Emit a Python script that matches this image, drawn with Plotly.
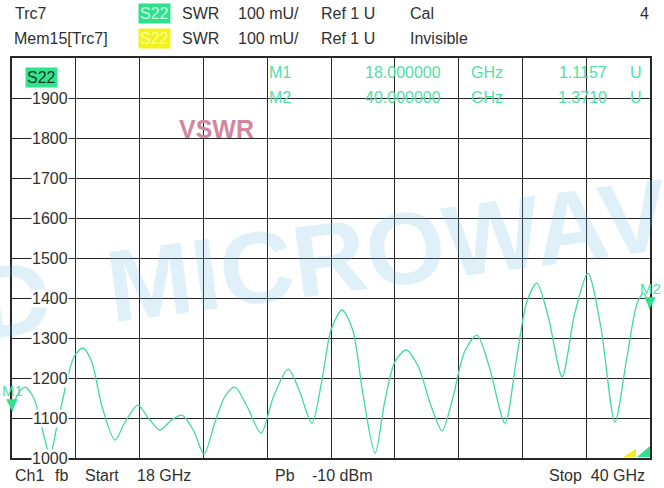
import plotly.graph_objects as go

# ---- data ----
freq_ghz = [18.00, 18.20, 18.45, 18.75, 19.05, 19.31, 19.55, 19.90, 20.15, 20.45,
            20.75, 21.10, 21.55, 21.90, 22.34, 22.70, 23.10, 23.50, 23.86, 24.25,
            24.62, 25.00, 25.35, 25.69, 26.10, 26.59, 27.00, 27.52, 27.90, 28.34,
            28.70, 29.00, 29.38, 29.75, 30.10, 30.52, 30.85, 31.20, 31.59, 32.00,
            32.45, 32.83, 33.20, 33.60, 34.03, 34.45, 35.00, 35.40, 35.75, 36.10,
            36.50, 36.97, 37.40, 37.86, 38.30, 38.79, 39.20, 39.55, 39.78, 40.00]
swr_mu = [1116, 1160, 1177, 1150, 1070, 1007, 1080, 1195, 1255, 1275,
          1240, 1130, 1045, 1090, 1132, 1100, 1070, 1095, 1107, 1070,
          1010, 1090, 1155, 1177, 1130, 1062, 1150, 1222, 1170, 1087,
          1200, 1320, 1370, 1320, 1160, 1012, 1140, 1240, 1270, 1230,
          1130, 1068, 1150, 1265, 1307, 1230, 1087, 1250, 1390, 1437,
          1350, 1203, 1360, 1462, 1330, 1090, 1250, 1385, 1412, 1371]

y_ticks = [1000, 1100, 1200, 1300, 1400, 1500, 1600, 1700, 1800, 1900]
marker_names = ["M1", "M2"]
marker_freq = [18.0, 40.0]
marker_val = [1115.7, 1371.0]
marker_freq_txt = ["18.000000", "40.000000"]
marker_val_txt = ["1.1157", "1.3710"]

header_row1 = ["Trc7", "S22", "SWR", "100 mU/", "Ref 1 U", "Cal", "4"]
header_row2 = ["Mem15[Trc7]", "S22", "SWR", "100 mU/", "Ref 1 U", "Invisible"]
footer = ["Ch1", "fb", "Start", "18 GHz", "Pb", "-10 dBm", "Stop  40 GHz"]

# ---- layout helpers ----
W, H = 664, 488
L, R, T, B = 12, 650, 58, 458
TRACE = "#3fdc9c"
DARK = "#303030"
FONT = "Liberation Sans, Arial, sans-serif"


def px(x):
    return (x - L) / (R - L)


def py(y):
    return (B - y) / (B - T)


fig = go.Figure()
fig.add_trace(go.Scatter(x=freq_ghz, y=swr_mu, mode="lines",
                         line=dict(color=TRACE, width=1.3, shape="spline", smoothing=0.8),
                         hoverinfo="skip", showlegend=False))

ann = []
# watermark
ann.append(dict(xref="paper", yref="paper", x=px(356), y=py(255), text="D\u00a0\u00a0MICROWAVE",
                showarrow=False, textangle=-7.5, xanchor="center", yanchor="middle",
                font=dict(family=FONT, size=102, color="rgba(95,180,225,0.2)", weight="bold")))


def text(x, y, s, size=16, color=DARK, xanchor="left", **kw):
    ann.append(dict(xref="paper", yref="paper", x=px(x), y=py(y), text=s, showarrow=False,
                    xanchor=xanchor, yanchor="middle", font=dict(family=FONT, size=size, color=color), **kw))


# header row 1
text(13, 14, header_row1[0])
text(154, 14, header_row1[1], color="#c8ffe0", xanchor="center", bgcolor="#2fe08c", borderpad=1)
text(180, 14, header_row1[2])
text(236, 14, header_row1[3])
text(319, 14, header_row1[4])
text(408, 14, header_row1[5])
text(651, 14, header_row1[6], xanchor="right")
# header row 2
text(12, 39, header_row2[0])
text(154, 39, header_row2[1], color="#fbff9a", xanchor="center", bgcolor="#f2f21e", borderpad=1)
text(180, 39, header_row2[2])
text(236, 39, header_row2[3])
text(319, 39, header_row2[4])
text(408, 39, header_row2[5])

# S22 box in plot
text(41, 77, "S22", color="#1a3a2a", xanchor="center", bgcolor="#33e48e", borderpad=1)
# VSWR label
ann.append(dict(xref="paper", yref="paper", x=px(216), y=py(129), text="VSWR", showarrow=False,
                xanchor="center", yanchor="middle",
                font=dict(family=FONT, size=25, color="#d2879c", weight="bold")))

# marker readout table
MK = "#4fe0a6"
for i, (nm, ft, vt) in enumerate(zip(marker_names, marker_freq_txt, marker_val_txt)):
    yy = 73 + 24 * i
    text(267, yy, nm, color=MK)
    text(443, yy, ft, color=MK, xanchor="right")
    text(469, yy, "GHz", color=MK)
    text(609, yy, vt, color=MK, xanchor="right")
    text(628, yy, "U", color=MK)

# y tick labels (inside the plot, white background)
for v in y_ticks:
    ann.append(dict(xref="paper", yref="y", x=px(50), y=v, text=str(v), showarrow=False,
                    xanchor="center", yanchor="middle", bgcolor="white", borderpad=0,
                    font=dict(family=FONT, size=16, color=DARK)))

# marker triangles + labels
for nm, f, v in zip(marker_names, marker_freq, marker_val):
    ann.append(dict(xref="x", yref="y", x=f, y=v, text="▼", showarrow=False,
                    xanchor="center", yanchor="bottom", yshift=-3,
                    font=dict(family="DejaVu Sans", size=15, color="#2fe08c")))
    ann.append(dict(xref="x", yref="y", x=f, y=v, text=nm, showarrow=False,
                    xanchor="center", yanchor="bottom", yshift=11,
                    font=dict(family=FONT, size=15, color=MK)))

# footer
text(13, 475, footer[0])
text(53, 475, footer[1])
text(83, 475, footer[2])
text(135, 475, footer[3])
text(273, 475, footer[4])
text(310, 475, footer[5])
text(647, 475, footer[6], xanchor="right")

shapes = [
    dict(type="path", xref="paper", yref="paper",
         path=f"M {px(623)} {py(457)} L {px(636)} {py(457)} L {px(636)} {py(449)} Z",
         fillcolor="#f0f020", line=dict(width=0)),
    dict(type="path", xref="paper", yref="paper",
         path=f"M {px(637)} {py(457)} L {px(650)} {py(457)} L {px(650)} {py(446)} Z",
         fillcolor="#2fe08c", line=dict(width=0)),
]

fig.update_layout(
    width=W, height=H,
    margin=dict(l=L, r=W - R, t=T, b=H - B, pad=0),
    paper_bgcolor="white", plot_bgcolor="white",
    annotations=ann, shapes=shapes, showlegend=False,
    xaxis=dict(range=[18, 40], tick0=18, dtick=2.2, showticklabels=False, ticks="",
               showgrid=True, gridcolor="#262626", gridwidth=1.4, zeroline=False,
               showline=True, linecolor="#262626", linewidth=1.5, mirror=True),
    yaxis=dict(range=[1000, 2000], tick0=1000, dtick=100, showticklabels=False, ticks="",
               showgrid=True, gridcolor="#262626", gridwidth=1.4, zeroline=False,
               showline=True, linecolor="#262626", linewidth=1.5, mirror=True),
)

fig.write_html("out.html", config={"displayModeBar": False},
               post_script="document.body.style.margin='0px';document.body.style.overflow='hidden';")
